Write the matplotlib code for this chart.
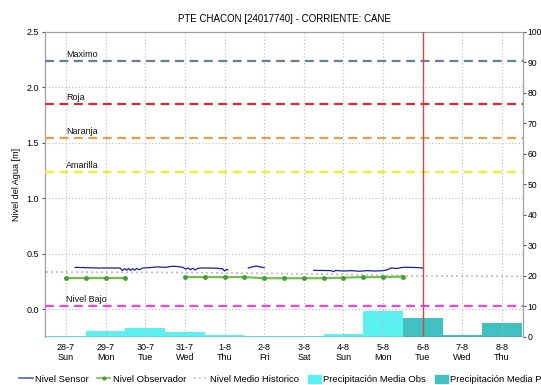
import matplotlib
matplotlib.use("Agg")
import matplotlib.pyplot as plt
import numpy as np

plt.rcParams['font.family'] = ['Liberation Sans', 'DejaVu Sans']

# days counted from 28-7 00:00
day_labels = ['28-7\nSun', '29-7\nMon', '30-7\nTue', '31-7\nWed', '1-8\nThu', '2-8\nFri',
              '3-8\nSat', '4-8\nSun', '5-8\nMon', '6-8\nTue', '7-8\nWed', '8-8\nThu']

# sensor level [m], three pieces with gaps
sensor_t1 = [0.23, 0.5, 0.8, 1.1, 1.36, 1.42, 1.48, 1.53, 1.58, 1.63, 1.68, 1.73, 1.78, 1.85, 1.93,
             2.1, 2.3, 2.5, 2.7, 2.85, 2.95, 3.02, 3.08, 3.14, 3.2, 3.26, 3.32, 3.4, 3.6, 3.8,
             3.95, 4.0, 4.05, 4.08]
sensor_v1 = [0.378, 0.375, 0.372, 0.372, 0.372, 0.350, 0.366, 0.352, 0.368, 0.350, 0.366, 0.352,
             0.368, 0.356, 0.372, 0.375, 0.382, 0.378, 0.388, 0.384, 0.378, 0.362, 0.372, 0.356,
             0.370, 0.354, 0.368, 0.372, 0.372, 0.370, 0.365, 0.345, 0.360, 0.355]
sensor_t2 = [4.6, 4.7, 4.8, 4.9, 5.0]
sensor_v2 = [0.372, 0.382, 0.390, 0.382, 0.375]
sensor_t3 = [6.25, 6.5, 6.7, 6.75, 6.8, 7.0, 7.2, 7.4, 7.6, 7.8, 8.0, 8.1, 8.2, 8.35, 8.5,
             8.7, 8.9, 9.0, 9.02]
sensor_v3 = [0.350, 0.350, 0.348, 0.338, 0.350, 0.345, 0.348, 0.343, 0.348, 0.345, 0.348, 0.355,
             0.372, 0.368, 0.378, 0.378, 0.375, 0.372, 0.368]

# observer level [m]
obs_t1 = [0.0, 0.5, 1.0, 1.5]
obs_v1 = [0.28, 0.28, 0.28, 0.28]
obs_t2 = [3.0, 3.5, 4.0, 4.5, 5.0, 5.5, 6.0, 6.5, 7.0, 7.5, 8.0, 8.5]
obs_v2 = [0.29, 0.29, 0.29, 0.29, 0.28, 0.28, 0.28, 0.28, 0.285, 0.29, 0.29, 0.295]

# historic mean level [m]
hist_t = [-0.5, 0.5, 1.5, 2.5, 3.5, 4.5, 5.5, 6.5, 7.5, 8.5, 9.5, 10.5, 11.5]
hist_v = [0.336, 0.335, 0.333, 0.332, 0.33, 0.326, 0.322, 0.317, 0.31, 0.303, 0.30, 0.298, 0.296]

# thresholds [m]
thr_names = ['Maximo', 'Roja', 'Naranja', 'Amarilla', 'Nivel Bajo']
thr_values = [2.24, 1.85, 1.545, 1.24, 0.03]
thr_colors = ['#6b7b9b', '#e02828', '#e3a23a', '#f2ee2a', '#f040f0']

# daily precipitation [mm]
rain_obs_days = [0, 1, 2, 3, 4, 5, 6, 7, 8]
rain_obs = [0.4, 2.1, 2.9, 1.6, 0.6, 0.2, 0.3, 1.0, 8.6]
rain_pred_days = [9, 10, 11]
rain_pred = [6.2, 0.6, 4.7]

now_day = 9

fig = plt.figure(figsize=(5.41, 3.85), dpi=100)
ax = fig.add_axes([0.0832, 0.1247, 0.8835, 0.7922])
ax2 = ax.twinx()
ax.set_zorder(ax2.get_zorder() + 1)
ax.patch.set_visible(False)

ax2.bar(rain_obs_days, rain_obs, width=1.0, color='#5cf0f0', align='center', zorder=1)
ax2.bar(rain_pred_days, rain_pred, width=1.0, color='#40c0c0', align='center', zorder=1)
ax2.axhline(0, color='#333333', lw=1, ls=(0, (1, 1)), zorder=2)
ax2.set_ylim(0, 100)
ax2.set_yticks(np.arange(0, 101, 10))

ax.set_xlim(-0.53, 11.53)
ax.set_ylim(-0.25, 2.5)
ax.set_yticks([0.0, 0.5, 1.0, 1.5, 2.0, 2.5])
ax.set_yticklabels(['0.0', '0.5', '1.0', '1.5', '2.0', '2.5'])
ax.set_xticks(range(len(day_labels)))
ax.set_xticklabels(day_labels)
ax.grid(True, color='#bbbbbb', ls=(0, (1, 2)), lw=0.8)

for name, val, col in zip(thr_names, thr_values, thr_colors):
    ax.axhline(val, color=col, lw=1.6, ls=(0, (4, 2.5)), zorder=3)
    ax.text(0, val + 0.015, name, fontsize=6.5, color='#111111', va='bottom', ha='left', zorder=4)

ax.plot(hist_t, hist_v, color='#b0b0b0', lw=1.2, ls=(0, (1, 2)), zorder=4)
ax.plot(obs_t1, obs_v1, color='#70c050', lw=1.6, marker='o', ms=2.5, mfc='#40a030',
        mec='#40a030', zorder=5)
ax.plot(obs_t2, obs_v2, color='#70c050', lw=1.6, marker='o', ms=2.5, mfc='#40a030',
        mec='#40a030', zorder=5)
for t, v in [(sensor_t1, sensor_v1), (sensor_t2, sensor_v2), (sensor_t3, sensor_v3)]:
    ax.plot(t, v, color='#1c1ca0', lw=0.9, zorder=6)

ax.axvline(now_day, color='#d04848', lw=1.0, zorder=7)

for a in (ax, ax2):
    for s in a.spines.values():
        s.set_color('#a0a0a0')
    a.spines['bottom'].set_visible(False)
    a.tick_params(labelsize=6.5, length=2.5, color='#555555', pad=2)
ax.tick_params(axis='x', length=0, pad=4)
ax2.tick_params(labelsize=6.2, pad=1)

ax.set_ylabel('Nivel del Agua [m]', fontsize=6.5)
ax.set_title('PTE CHACON [24017740] - CORRIENTE: CANE', fontsize=7, pad=7)

handles = [
    plt.Line2D([], [], color='#5060b0', lw=1.2),
    plt.Line2D([], [], color='#70c050', lw=1.2, marker='o', ms=2, mfc='#40a030', mec='#40a030'),
    plt.Line2D([], [], color='#c0c0c0', lw=1.2, ls=(0, (1, 2))),
    plt.Rectangle((0, 0), 1, 1, color='#5cf0f0'),
    plt.Rectangle((0, 0), 1, 1, color='#40c0c0'),
]
labels = ['Nivel Sensor', 'Nivel Observador', 'Nivel Medio Historico',
          'Precipitación Media Obs', 'Precipitación Media Pred']
fig.legend(handles, labels, loc='lower left', bbox_to_anchor=(0.02, -0.02), ncol=5,
           frameon=False, fontsize=6.8, handlelength=1.4, handletextpad=0.25,
           columnspacing=0.9, handleheight=1.0)

fig.savefig('out.png', dpi=100)
